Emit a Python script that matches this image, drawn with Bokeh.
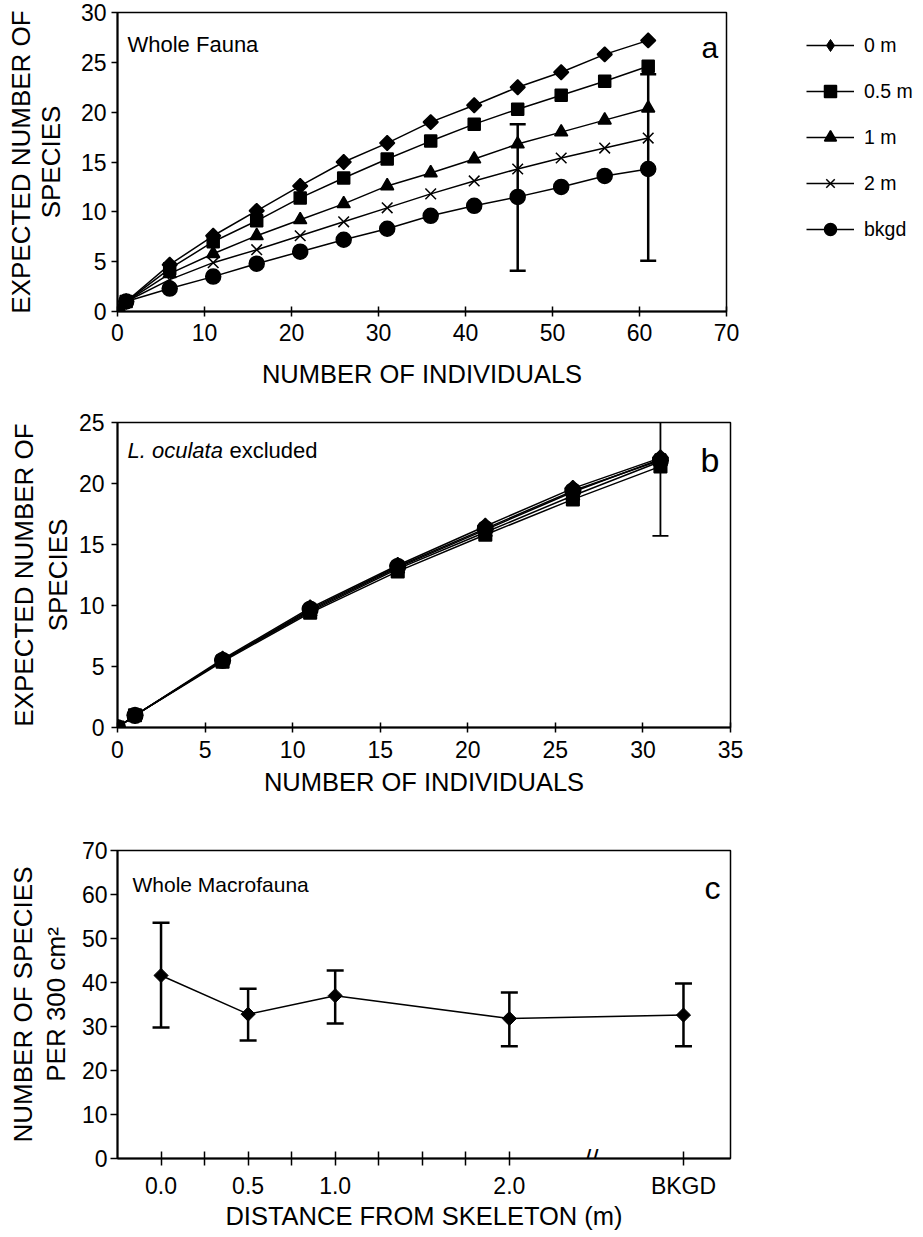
import math
from bokeh.plotting import figure
from bokeh.models import ColumnDataSource, Label, Legend, LegendItem, FixedTicker, Range1d
from bokeh.layouts import column
from bokeh.embed import file_html
from bokeh.resources import INLINE

FONT = "Liberation Sans"

# ---------------- Panel a: whole fauna rarefaction ----------------
a_n = [0, 1, 6, 11, 16, 21, 26, 31, 36, 41, 46, 51, 56, 61]
a_0m = [0, 1, 4.7, 7.6, 10.1, 12.6, 15.0, 16.9, 19.0, 20.7, 22.5, 24.0, 25.8, 27.2]
a_05m = [0, 1, 4.3, 7.0, 9.1, 11.4, 13.4, 15.3, 17.1, 18.8, 20.3, 21.7, 23.1, 24.6]
a_1m = [0, 1, 3.8, 5.8, 7.6, 9.2, 10.8, 12.6, 13.9, 15.3, 16.8, 18.0, 19.2, 20.4]
a_2m = [0, 1, 3.2, 4.9, 6.2, 7.6, 9.0, 10.4, 11.8, 13.1, 14.3, 15.4, 16.4, 17.4]
a_bkgd = [0, 1, 2.3, 3.5, 4.8, 6.0, 7.2, 8.3, 9.6, 10.6, 11.5, 12.5, 13.6, 14.3]
a_err_n = [46, 61]
a_err_lo = [4.1, 5.1]
a_err_hi = [18.8, 23.8]
a_xticks = [0, 10, 20, 30, 40, 50, 60, 70]
a_yticks = [0, 5, 10, 15, 20, 25, 30]

series_labels = ["0 m", "0.5 m", "1 m", "2 m", "bkgd"]

# ---------------- Panel b: L. oculata excluded ----------------
b_n = [0, 1, 6, 11, 16, 21, 26, 31]
b_0m = [0, 1, 5.6, 9.8, 13.3, 16.5, 19.6, 22.1]
b_05m = [0, 1, 5.4, 9.4, 12.8, 15.8, 18.7, 21.4]
b_1m = [0, 1, 5.5, 9.5, 13.0, 16.0, 19.0, 21.8]
b_2m = [0, 1, 5.5, 9.6, 13.1, 16.2, 19.3, 22.0]
b_bkgd = [0, 1, 5.5, 9.7, 13.2, 16.3, 19.4, 21.9]
b_err_n = [31]
b_err_lo = [15.7]
b_err_hi = [28.1]
b_xticks = [0, 5, 10, 15, 20, 25, 30, 35]
b_yticks = [0, 5, 10, 15, 20, 25]

# ---------------- Panel c: species per 300 cm2 ----------------
c_dist = [0.0, 0.5, 1.0, 2.0, 3.0]
c_labels = ["0.0", "0.5", "1.0", "2.0", "BKGD"]
c_minor = [0.25, 0.75, 1.25, 1.5, 1.75]
c_mean = [41.6, 32.8, 37.0, 31.8, 32.6]
c_lo = [29.8, 26.8, 30.7, 25.5, 25.5]
c_hi = [53.6, 38.6, 42.7, 37.7, 39.8]
c_yticks = [0, 10, 20, 30, 40, 50, 60, 70]

MARKERS = [("square", math.pi / 4, 10.5), ("square", 0, 12), ("triangle", 0, 13),
           ("x", 0, 15), ("circle", 0, 15)]


def make_fig(fw, fh, bl, bt, br, bb, xr, yr, ylh):
    p = figure(frame_width=fw, frame_height=fh, min_border_left=bl, min_border_top=bt,
               min_border_right=br, min_border_bottom=bb,
               x_range=Range1d(*xr), y_range=Range1d(*yr),
               output_backend="svg", toolbar_location=None)
    p.grid.visible = False
    p.outline_line_color = "black"
    p.outline_line_width = 1.5
    p.background_fill_color = "white"
    p.border_fill_color = "white"
    for ax in p.axis:
        ax.axis_line_width = 2
        ax.axis_line_color = "black"
        ax.major_tick_line_width = 1.5
        ax.major_tick_line_color = "black"
        ax.minor_tick_line_color = None
        ax.major_label_text_font = FONT
        ax.major_label_text_font_size = "23px"
        ax.major_label_text_color = "black"
        ax.axis_label_text_font = FONT
        ax.axis_label_text_font_style = "normal"
        ax.axis_label_text_color = "black"
    p.xaxis.axis_label_text_font_size = "25.5px"
    p.yaxis.axis_label_text_font_size = "26px"
    p.yaxis.axis_label_text_line_height = ylh
    p.yaxis.major_tick_in = 0
    p.yaxis.major_tick_out = 6
    p.xaxis.major_tick_in = 5
    p.xaxis.major_tick_out = 5
    return p


def txt(p, x, y, s, size, style="normal"):
    p.add_layout(Label(x=x, y=y, x_units="screen", y_units="screen", text=s,
                       text_font=FONT, text_font_size=size, text_font_style=style,
                       text_color="black", text_align="left", text_baseline="alphabetic"))


def add_series(p, xs, ys_list, msize_scale=1.0):
    rends = []
    for ys, (m, ang, sz) in zip(ys_list, MARKERS):
        src = ColumnDataSource(dict(x=xs, y=ys))
        l = p.line("x", "y", source=src, line_color="black", line_width=1.5)
        s = p.scatter("x", "y", source=src, marker=m, angle=ang, size=sz * msize_scale,
                      fill_color="black", line_color="black", line_width=1.5)
        rends.append((l, s, src))
    return rends


def add_err(p, xs, lo, hi, lw, cap):
    src = ColumnDataSource(dict(x=xs, lo=lo, hi=hi))
    p.segment(x0="x", y0="lo", x1="x", y1="hi", source=src, line_color="black", line_width=lw)
    p.scatter("x", "lo", source=src, marker="dash", size=cap, line_color="black", line_width=lw)
    p.scatter("x", "hi", source=src, marker="dash", size=cap, line_color="black", line_width=lw)


# ---------- figure a ----------
pa = make_fig(609, 299, 110, 12, 188, 86, (0, 70), (0, 30), 1.0)
pa.xaxis.ticker = FixedTicker(ticks=a_xticks)
pa.yaxis.ticker = FixedTicker(ticks=a_yticks)
pa.xaxis.major_label_standoff = 7
pa.yaxis.major_label_standoff = 5
pa.xaxis.axis_label = "NUMBER OF INDIVIDUALS"
pa.xaxis.axis_label_standoff = 16
pa.yaxis.axis_label = "EXPECTED NUMBER OF\nSPECIES"
pa.yaxis.axis_label_standoff = 12
rends = add_series(pa, a_n, [a_0m, a_05m, a_1m, a_2m, a_bkgd])
add_err(pa, a_err_n, a_err_lo, a_err_hi, 2.5, 16)
# diamond key for the legend, drawn on the 0 m points (hidden inside the rotated squares)
diamond_key = pa.scatter("x", "y", source=rends[0][2], marker="diamond", size=13,
                         fill_color="black", line_color="black")
legend_rends = [[rends[0][0], diamond_key]] + [[r[0], r[1]] for r in rends[1:]]
legend = Legend(items=[LegendItem(label=lab, renderers=r) for lab, r in zip(series_labels, legend_rends)],
                location=(80, 67), padding=0, margin=0, spacing=16,
                glyph_width=48, glyph_height=30, label_height=30, label_standoff=10,
                label_text_font=FONT, label_text_font_size="19.5px", label_text_color="black",
                border_line_color=None, background_fill_alpha=0)
pa.add_layout(legend, "right")
txt(pa, 10, 267, "Whole Fauna", "22px")
txt(pa, 584, 264, "a", "30px")

# ---------- figure b ----------
pb = make_fig(613, 305, 107, 25, 20, 77, (0, 35), (0, 25), 1.12)
pb.xaxis.ticker = FixedTicker(ticks=b_xticks)
pb.yaxis.ticker = FixedTicker(ticks=b_yticks)
pb.xaxis.major_label_standoff = 8
pb.yaxis.major_label_standoff = 7
pb.xaxis.axis_label = "NUMBER OF INDIVIDUALS"
pb.xaxis.axis_label_standoff = 7
pb.yaxis.axis_label = "EXPECTED NUMBER OF\nSPECIES"
pb.yaxis.axis_label_standoff = 3
add_series(pb, b_n, [b_0m, b_05m, b_1m, b_2m, b_bkgd], 1.05)
add_err(pb, b_err_n, b_err_lo, b_err_hi, 1.8, 16)
txt(pb, 10, 277, "L. oculata", "22px", style="italic")
txt(pb, 112, 277, "excluded", "22px")
txt(pb, 583, 268, "b", "34px")

# ---------- figure c ----------
pc = make_fig(613, 308, 117, 46, 20, 63, (-0.25, 3.27), (0, 70), 1.1)
pc.xaxis.ticker = FixedTicker(ticks=c_dist, minor_ticks=c_minor)
pc.xaxis.major_label_overrides = {d: lab for d, lab in zip(c_dist, c_labels)}
pc.yaxis.ticker = FixedTicker(ticks=c_yticks)
pc.xaxis.major_tick_in = 7
pc.xaxis.major_tick_out = 7
pc.xaxis.minor_tick_in = 7
pc.xaxis.minor_tick_out = 7
pc.xaxis.minor_tick_line_color = "black"
pc.xaxis.minor_tick_line_width = 1.5
pc.yaxis.major_tick_out = 7
pc.xaxis.major_label_standoff = 7
pc.yaxis.major_label_standoff = 3
pc.xaxis.axis_label = "DISTANCE FROM SKELETON (m)"
pc.xaxis.axis_label_standoff = 0
pc.yaxis.axis_label = "NUMBER OF SPECIES\nPER 300 cm²"
pc.yaxis.axis_label_standoff = 8
src_c = ColumnDataSource(dict(x=c_dist, y=c_mean))
pc.line("x", "y", source=src_c, line_color="black", line_width=1.5)
add_err(pc, c_dist, c_lo, c_hi, 2.5, 17)
pc.scatter("x", "y", source=src_c, marker="square", angle=math.pi / 4, size=10,
           fill_color="black", line_color="black")
pc.add_layout(Label(x=2.47, y=0, text="//", text_font=FONT, text_font_size="26px",
                    text_align="center", text_baseline="middle", text_color="black"))
txt(pc, 15, 274, "Whole Macrofauna", "21px")
txt(pc, 587, 271, "c", "32px")

layout = column(pa, pb, pc, spacing=0)
open("out.html", "w").write(file_html(layout, INLINE))
